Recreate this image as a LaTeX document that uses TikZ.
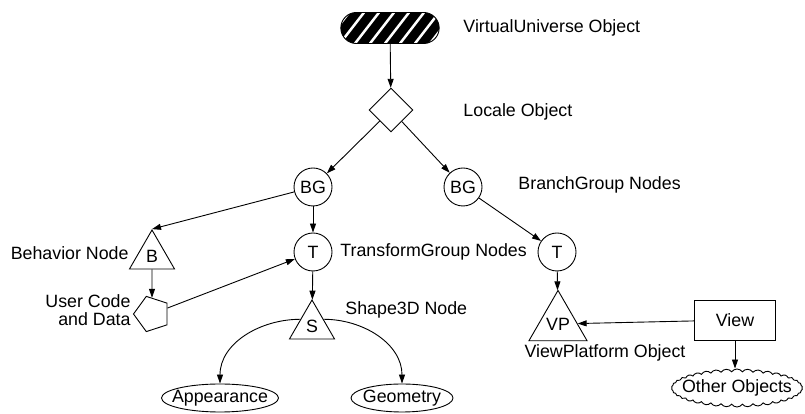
\documentclass[tikz,border=0pt]{standalone}
\usepackage{fontspec}
\setmainfont{Liberation Sans}
\usepackage{tikz}
\usetikzlibrary{shapes}
\usetikzlibrary{arrows.meta}
\tikzset{ grp_node/.style = {circle, draw, minimum size=38pt, inner sep=0pt} }
\tikzset{ leaf_node/.style = {regular polygon, regular polygon sides=3, draw, minimum size=52pt, inner sep=0pt} }
\tikzset{ obj_node/.style = {ellipse, draw, minimum height=28pt, inner xsep=-14pt, inner ysep=0pt} }
\tikzset{ note/.style = {inner sep=0pt} }

\begin{document}
\begin{tikzpicture}[x=1pt, y=1pt, line width=0.9pt, >={Triangle[length=9pt, width=6pt]}, font=\fontsize{17.8}{15}\selectfont]
            \useasboundingbox (0,0) rectangle (805,414);
            \node [rounded rectangle, draw, fill=black, minimum width=105pt, minimum height=31pt,
                   path picture={\foreach \s in {-80,-65,...,80}
                     \draw[white, line width=2.5pt] ([xshift=\s pt]path picture bounding box.south) -- ++(24pt,31pt);}] (0) at (390, 386) {};
            \node [diamond, draw, minimum size=44pt, inner sep=0pt] (1) at (391, 304) {};
            \node [grp_node] (2) at (313, 227) {BG};
            \node [grp_node] (3) at (463, 227) {BG};
            \node [grp_node] (4) at (313, 162) {T};
            \node [grp_node] (13) at (557, 162) {T};
            \node [leaf_node] (5) at (152, 158) {B};
            \node [regular polygon, regular polygon sides=5, shape border rotate=90, draw, minimum size=37pt] (6) at (152, 100) {};
            \node [leaf_node] (7) at (312, 88) {S};
            \node [leaf_node] (10) at (558, 90) {VP};
            \node [obj_node, minimum width=117pt] (8) at (220, 16) {Appearance};
            \node [obj_node, minimum width=102pt] (9) at (402, 16) {Geometry};
            \node [rectangle, draw, minimum width=81pt, minimum height=40pt] (11) at (735, 94) {View};
            \node [cloud, draw, cloud puffs=38, cloud puff arc=110, cloud ignores aspect, minimum width=131pt,
                   minimum height=38pt, inner xsep=-22pt, inner ysep=-4pt] (12) at (737, 26) {Other Objects};
            % labels
            \node [note, anchor=west] (l0) at (463, 386) {VirtualUniverse Object};
            \node [note, anchor=west] (l1) at (463, 302) {Locale Object};
            \node [note, anchor=west] (l2) at (518, 229) {BranchGroup Nodes};
            \node [note, anchor=west] (l3) at (340, 162) {TransformGroup Nodes};
            \node [note, anchor=east] (l4) at (129, 161) {Behavior Node};
            \node [note, anchor=east, align=right, font=\fontsize{17.8}{17.5}\selectfont] (l5) at (131, 104) {User Code\\and Data};
            \node [note, anchor=west] (l6) at (345, 104) {Shape3D Node};
            \node [note] (l7) at (605, 61) {ViewPlatform Object};
            % connectors
            \draw[->] (0) to (1);
            \draw[->] (1) to (2);
            \draw[->] (1) to (3);
            \draw[->] (2) to (4);
            \draw[->] (2) to (5.corner 1);
            \draw[->] (5) to (6);
            \draw[->] (6) to (4);
            \draw[->] (4) to (7);
            \draw[->] (3) to (13);
            \draw[->] (13) to (10);
            \draw[->] (11) to (10);
            \draw[->] (11) to (11.south |- 12.north);
            \draw[->] (7.150) to[out=180, in=90] (8);
            \draw[->] (7.30) to[out=0, in=90] (9);
        \end{tikzpicture}
\end{document}
